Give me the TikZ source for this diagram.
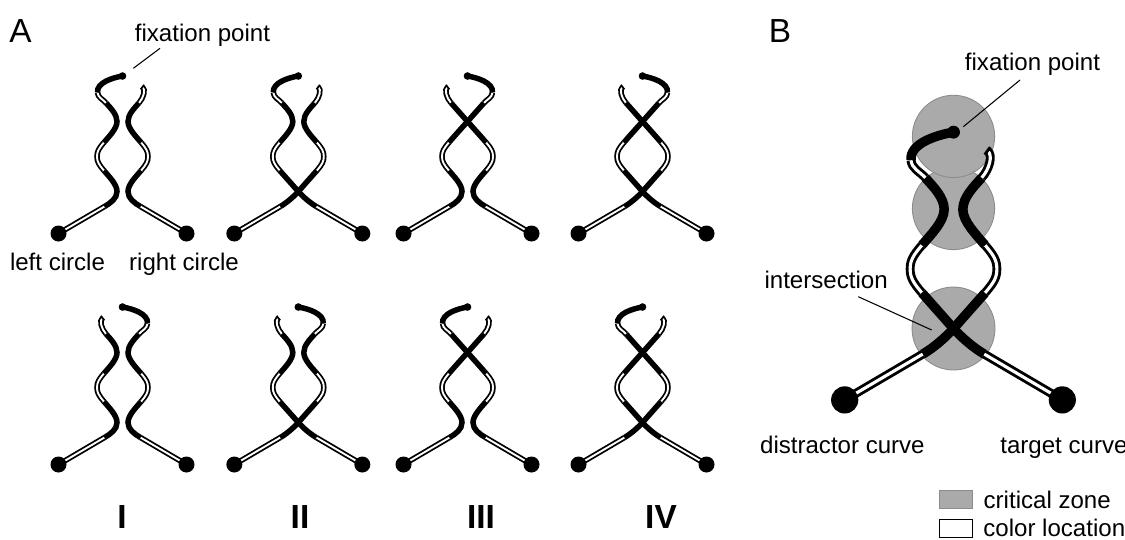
\documentclass[tikz,border=0pt]{standalone}
\usepackage{fontspec}
\setmainfont{Liberation Sans}
\definecolor{zonegray}{RGB}{170,170,170}
\definecolor{zoneedge}{RGB}{140,140,140}
\tikzset{
  blk/.style={draw=black, line width=\LWb},
  dbl/.style={draw=black, line width=\LWd, double=white, double distance=\DDd},
  capl/.style={draw=black, line width=\LWd},
  lab/.style={font=\fontsize{13.7}{16}\selectfont, inner sep=0pt},
  big/.style={font=\fontsize{19}{22}\selectfont, inner sep=0pt},
  num/.style={font=\fontsize{19}{22}\selectfont\bfseries, inner sep=0pt},
  leader/.style={draw=black, line width=0.6pt},
  zone/.style={fill=zonegray, draw=zoneedge, line width=0.5pt},
}
\newcommand\setwidthsA{%
  \def\LWb{0.11cm}\def\LWd{0.036cm}\def\DDd{0.038cm}}
\newcommand\setwidthsB{%
  \def\LWb{0.19cm}\def\LWd{0.058cm}\def\DDd{0.062cm}}
% #1 N1 crossing (1/0), #2 N2 crossing (1/0), #3 side of fixation hook (1 left, -1 right)
\newcommand\curvepair[3]{%
  \foreach \f in {1,-1}{%
    \begin{scope}[xscale=\f]
      \draw[dbl] (-64,-42) -- (-18,-15);
      \ifnum#1=1
        \draw[blk] (-18,-15) .. controls (-11.96,-11.46) and (-5,-5.6) .. (0,0) -- (18.6,21);
      \else
        \draw[blk] (-18,-15) .. controls (-11.96,-11.46) and (-5.5,-7) .. (-5.5,0)
                   .. controls (-5.5,7) and (-13.4,14.9) .. (-18.6,21);
      \fi
      \draw[dbl] (-18.6,21) .. controls (-23.8,27.1) and (-25.5,30) .. (-25.5,35)
                 .. controls (-25.5,40) and (-23.8,42.9) .. (-18.6,49);
      \ifnum#2=1
        \draw[blk] (-18.6,49) .. controls (-13.4,55.1) and (-5,64.4) .. (0,70) -- (16.6,88.7);
      \else
        \draw[blk] (-18.6,49) .. controls (-13.4,55.1) and (-5.5,63) .. (-5.5,70)
                   .. controls (-5.5,77) and (-11.6,83.1) .. (-16.6,88.7);
      \fi
      \ifnum\f=#3
        \draw[dbl] (-16.6,88.7) .. controls (-19.9,92.4) and (-24.6,94) .. (-25,99);
        \draw[blk] (-25,99) .. controls (-25.9,109) and (-9.8,113.8) .. (0,115.5);
        \fill (0,115.5) circle[radius=3.8];
      \else
        \draw[dbl] (-16.6,88.7) .. controls (-21,93.6) and (-23.5,102) .. (-20,104.5);
        \draw[capl] (-21.6,106.7) -- (-18.4,102.3);
      \fi
    \end{scope}
  }%
  \fill (-64,-42) circle[radius=8];
  \fill (64,-42) circle[radius=8];
}
\begin{document}
\begin{tikzpicture}[x=0.02cm, y=0.02cm]
\useasboundingbox (0,0) rectangle (1125,-539);
\fill[white] (0,0) rectangle (1125,-539);

% ---------- Panel A ----------
\setwidthsA
\foreach \cx/\na/\nb/\d in {122.5/0/0/1, 298.3/1/0/1, 467.5/0/1/-1, 642.5/1/1/-1}{
  \begin{scope}[shift={(\cx,-191.5)}]
    \curvepair{\na}{\nb}{\d}
  \end{scope}
  \begin{scope}[shift={(\cx,-422.5)}, xscale=-1]
    \curvepair{\na}{\nb}{\d}
  \end{scope}
}

\node[big, anchor=base] (labA) at (20.5,-42) {A};
\node[lab, anchor=base] (fpA) at (202.5,-41.7) {fixation point};
\coordinate (fpAs) at (160,-48.3);
\coordinate (fpAe) at (133.3,-68.3);
\draw[leader] (fpAs) -- (fpAe);
\node[lab, anchor=base] (lcirc) at (57.5,-270) {left circle};
\node[lab, anchor=base] (rcirc) at (184,-270) {right circle};

\node[num, anchor=base] (numI) at (122,-528) {I};
\node[num, anchor=base] (numII) at (300,-528) {II};
\node[num, anchor=base] (numIII) at (481,-528) {III};
\node[num, anchor=base] (numIV) at (661,-528) {IV};

% ---------- Panel B ----------
\node[big, anchor=base] (labB) at (780,-42) {B};
\begin{scope}[shift={(953.5,-328.5)}, scale=1.7]
  \draw[zone] (0,0) circle[radius=24.4];
  \draw[zone] (0,70.6) circle[radius=24.2];
  \draw[zone] (0,113) circle[radius=24.2];
  \setwidthsB
  \curvepair{1}{0}{1}
\end{scope}

\node[lab, anchor=base] (fpB) at (1032.5,-70.7) {fixation point};
\coordinate (fpBs) at (1020,-80);
\coordinate (fpBe) at (963.3,-126.7);
\draw[leader] (fpBs) -- (fpBe);

\node[lab, anchor=base east] (isec) at (888,-288) {intersection};
\coordinate (isecs) at (858.3,-296.7);
\coordinate (isece) at (931.7,-330);
\draw[leader] (isecs) -- (isece);

\node[lab, anchor=base east] (dcurve) at (925,-453) {distractor curve};
\node[lab, anchor=base west] (tcurve) at (1000,-453) {target curve};

\draw[zone] (939.3,-490.7) rectangle (972.7,-508.3);
\node[lab, anchor=base west] (legz) at (983.3,-508) {critical zone};
\draw[fill=white, draw=black, line width=0.7pt] (939.3,-519.3) rectangle (972.7,-537.3);
\node[lab, anchor=base west] (legc) at (983,-536) {color location};
\end{tikzpicture}
\end{document}
